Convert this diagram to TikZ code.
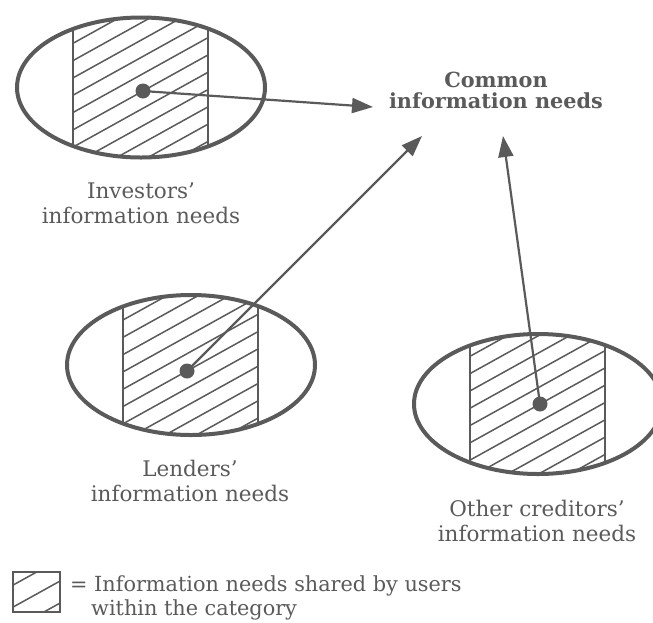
\documentclass[tikz,border=0pt]{standalone}
\usepackage{fontspec}
\setmainfont{DejaVu Serif}
\usetikzlibrary{arrows.meta}
\definecolor{ink}{HTML}{5A5A5A}
% #1 ellipse centre x, #2 centre y, #3 rect left, #4 rect right, #5 dot x, #6 dot y, #7 dot name
\newcommand\needsoval[7]{%
  \begin{scope}
    \clip (#1,#2) ellipse [x radius=124pt, y radius=70pt];
    \draw[sideline] (#3,{#2-80}) -- (#3,{#2+80});
    \draw[sideline] (#4,{#2-80}) -- (#4,{#2+80});
    \clip (#3,{#2-80}) rectangle (#4,{#2+80});
    \foreach \k in {-8,...,8}
      \draw[hatchline] ({#5-90},{#6+\k*17.3+49.9}) -- ({#5+90},{#6+\k*17.3-49.9});
  \end{scope}
  \draw[oval] (#1,#2) ellipse [x radius=124pt, y radius=70pt];
  \node[dotnode] (#7) at (#5,#6) {};
}
\begin{document}
\begin{tikzpicture}[x=1pt,y=-1pt,
  oval/.style={draw=ink, line width=4pt},
  sideline/.style={draw=ink, line width=2pt},
  hatchline/.style={draw=ink, line width=1.5pt},
  dotnode/.style={circle, fill=ink, inner sep=0pt, minimum size=15pt},
  arrowline/.style={draw=ink, line width=2.2pt, -{Triangle[length=21pt,width=15pt]}},
  lbl/.style={text=ink, align=center, inner sep=0pt, font=\fontsize{21.5}{25}\selectfont},
  boldlbl/.style={text=ink, align=center, inner sep=0pt, font=\fontsize{20.8}{21}\selectfont\bfseries},
  keylbl/.style={text=ink, align=left, inner sep=0pt, font=\fontsize{20.8}{24}\selectfont}
]
\useasboundingbox (0,0) rectangle (653,622);

\needsoval{141}{87.5}{73}{208}{143}{91}{inv}
\needsoval{191}{365}{123}{258}{187}{371}{len}
\needsoval{538}{404}{469.5}{604.5}{540}{404}{oth}

\node[lbl] (invtext) at (141,203) {Investors’\\information needs};
\node[lbl] (lentext) at (190,481) {Lenders’\\information needs};
\node[lbl] (othtext) at (537,521) {Other creditors’\\information needs};
\node[boldlbl] (common) at (496,90) {Common\\information needs};

\coordinate (tipA) at (373,107);
\coordinate (tipB) at (422,136);
\coordinate (tipC) at (503,136);
\draw[arrowline] (inv.center) -- (tipA);
\draw[arrowline] (len.center) -- (tipB);
\draw[arrowline] (oth.center) -- (tipC);

% legend
\begin{scope}
  \clip (13,572) rectangle (60,612);
  \foreach \k in {0,1,2}
    \draw[hatchline] (0,{592.3+\k*22}) -- (80,{548+\k*22});
\end{scope}
\draw[sideline] (13,572) rectangle (60,612);
\node[keylbl, anchor=west] (key) at (70,598) {= Information needs shared by users\\\hspace*{21pt}within the category};
\end{tikzpicture}
\end{document}
